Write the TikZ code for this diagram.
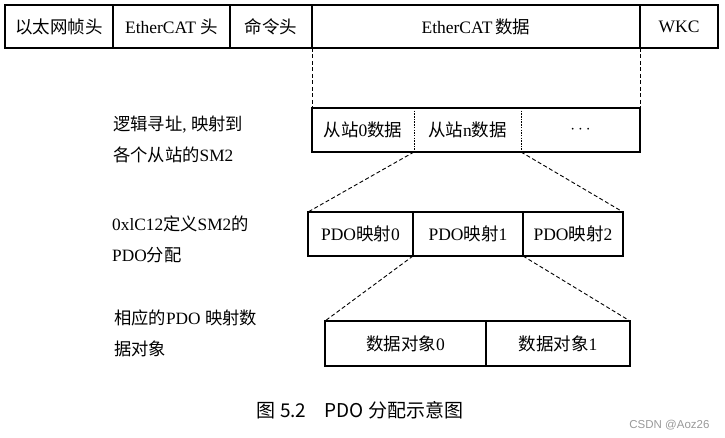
\documentclass[tikz,border=0pt]{standalone}
\usepackage{fontspec}
\setmainfont{Liberation Serif}
\newfontfamily\cjk{Noto Sans CJK SC}
\newfontfamily\wmfont{Liberation Sans}
\begin{document}
\begin{tikzpicture}[x=1pt,y=-1pt,
		cell/.style={draw, line width=1.4pt, inner sep=0pt, outer sep=0pt, anchor=north west,
			font=\fontsize{17.5}{20}\selectfont},
		slot/.style={cell, draw=none},
		sep/.style={line width=1pt, dash pattern=on 1.5pt off 1.2pt},
		link/.style={line width=0.9pt, dash pattern=on 4pt off 2.5pt},
		note/.style={anchor=west, align=left, inner sep=0pt, font=\fontsize{17.3}{31}\selectfont}]
		\useasboundingbox (0,0) rectangle (725,438);
		\node[cell, minimum width=108, minimum height=43] (eth) at (5,5) {\cjk 以太网帧头};
		\node[cell, minimum width=117, minimum height=43] (echdr) at (113,5) {EtherCAT {\cjk 头}};
		\node[cell, minimum width=82, minimum height=43] (cmd) at (230,5) {\cjk 命令头};
		\node[cell, minimum width=328, minimum height=43] (ecdata) at (312,5) {EtherCAT\,{\cjk 数据}};
		\node[cell, minimum width=78, minimum height=43] (wkc) at (640,5) {WKC};
		\node[slot, minimum width=102, minimum height=44] (s0) at (312,108) {{\cjk 从站}0{\cjk 数据}};
		\node[slot, minimum width=107, minimum height=44] (sn) at (414,108) {{\cjk 从站}n{\cjk 数据}};
		\node[slot, minimum width=119, minimum height=44] (sdots) at (521,108) {$\cdots$};
		\draw[line width=1.4pt] (s0.north west) rectangle (sdots.south east);
		\draw[sep] (s0.north east) -- (s0.south east);
		\draw[sep] (sn.north east) -- (sn.south east);
		\node[cell, minimum width=105, minimum height=44] (p0) at (308,212) {PDO{\cjk 映射}0};
		\node[cell, minimum width=110, minimum height=44] (p1) at (413,212) {PDO{\cjk 映射}1};
		\node[cell, minimum width=100, minimum height=44] (p2) at (523,212) {PDO{\cjk 映射}2};
		\node[cell, minimum width=161, minimum height=45] (o0) at (325,321) {{\cjk 数据对象}0};
		\node[cell, minimum width=144, minimum height=45] (o1) at (486,321) {{\cjk 数据对象}1};
		\draw[link] (ecdata.south west) -- (s0.north west);
		\draw[link] (ecdata.south east) -- (sdots.north east);
		\draw[link] (s0.south east) -- (p0.north west);
		\draw[link] (sn.south east) -- (p2.north east);
		\draw[link] (p0.south east) -- (o0.north west);
		\draw[link] (p1.south east) -- (o1.north east);
		\node[note] (map) at (113,139) {{\cjk 逻辑寻址}, {\cjk 映射到}\\{\cjk 各个从站的}SM2};
		\node[note] (assign) at (112,239) {0xlC12{\cjk 定义}SM2{\cjk 的}\\PDO{\cjk 分配}};
		\node[note] (objs) at (114,333) {{\cjk 相应的}PDO {\cjk 映射数}\\{\cjk 据对象}};
		\node[font=\cjk\fontsize{19}{22}\selectfont] (cap) at (360,410) {图 5.2\hspace{14pt} PDO 分配示意图};
		\node[anchor=east, text=black!40, font=\wmfont\fontsize{11.5}{13}\selectfont] (wm) at (713,425) {CSDN @Aoz26};
	\end{tikzpicture}
\end{document}
